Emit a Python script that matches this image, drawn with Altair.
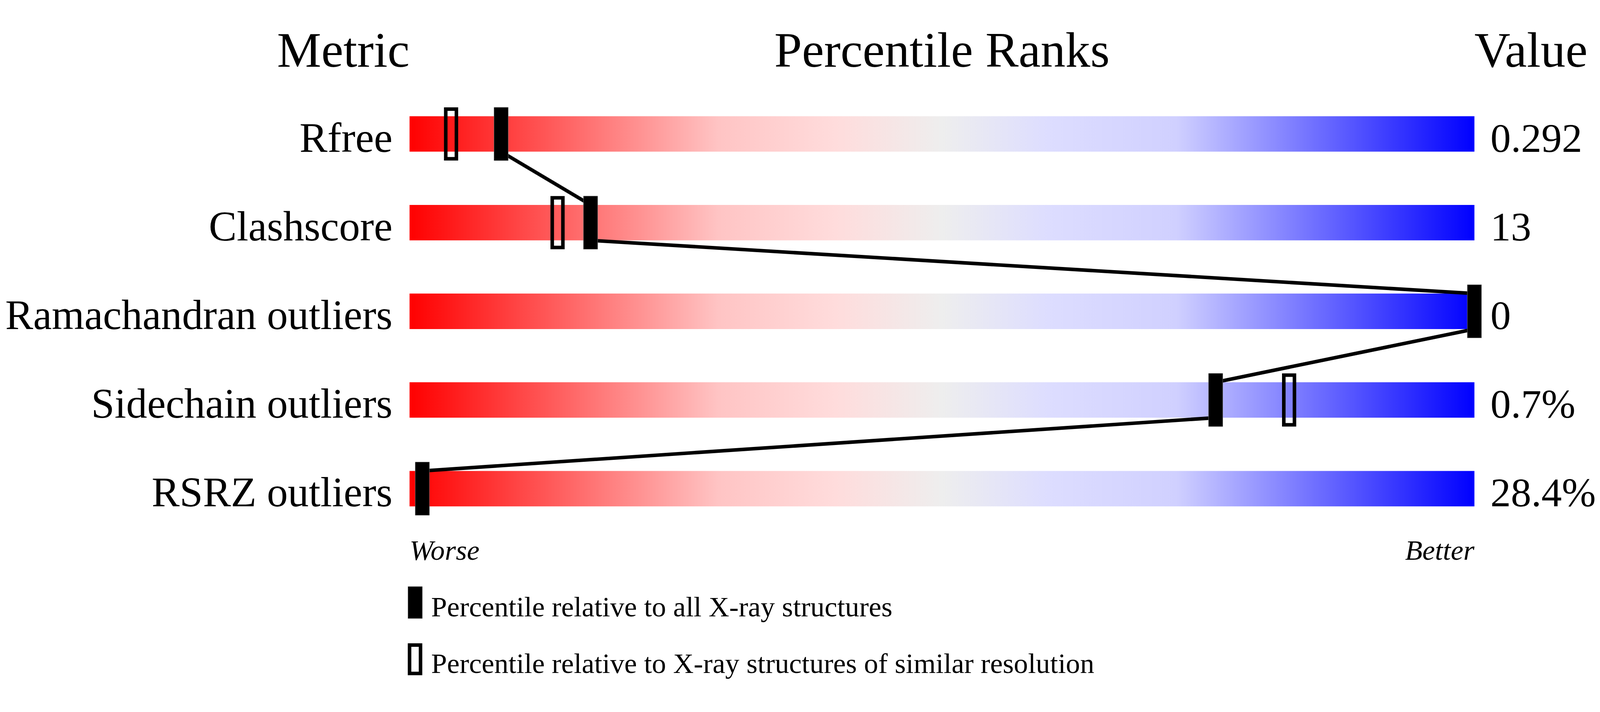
import altair as alt
import pandas as pd

# ---- data ----
metrics = ["Rfree", "Clashscore", "Ramachandran outliers", "Sidechain outliers", "RSRZ outliers"]
values = ["0.292", "13", "0", "0.7%", "28.4%"]
pct_all = [8.6, 17.0, 100.0, 75.7, 1.2]          # percentile vs all X-ray structures
pct_res = [3.9, 13.9, None, 82.6, None]          # percentile vs similar resolution
headers = ["Metric", "Percentile Ranks", "Value"]
axis_ends = ["Worse", "Better"]
legend_labels = [
    "Percentile relative to all X-ray structures",
    "Percentile relative to X-ray structures of similar resolution",
]

FONT = "Liberation Serif"

X = alt.Scale(domain=[0, 100], range=[1145, 4145], nice=False, zero=False)
Y = alt.Scale(domain=[0, 4], range=[278, 1278], nice=False, zero=False)

rows = pd.DataFrame({
    "metric": metrics,
    "value": values,
    "pall": pct_all,
    "pres": pct_res,
    "row": list(range(len(metrics))),
})
rows["lo"] = 0.0
rows["hi"] = 100.0

grad = alt.LinearGradient(
    gradient="linear",
    stops=[
        alt.GradientStop(color="#ff0000", offset=0.0),
        alt.GradientStop(color="#ffc4c4", offset=0.29),
        alt.GradientStop(color="#ffdcdc", offset=0.4),
        alt.GradientStop(color="#eeeeee", offset=0.5),
        alt.GradientStop(color="#ddddff", offset=0.6),
        alt.GradientStop(color="#d0d0ff", offset=0.72),
        alt.GradientStop(color="#0000ff", offset=1.0),
    ],
    x1=0, x2=1, y1=0, y2=0,
)

base = alt.Chart(rows)

bars = base.mark_rect(fill=grad, strokeWidth=0).transform_calculate(
    top="datum.row - 0.2", bot="datum.row + 0.2"
).encode(
    x=alt.X("lo:Q", scale=X, axis=None),
    x2="hi:Q",
    y=alt.Y("top:Q", scale=Y, axis=None),
    y2="bot:Q",
)

# connecting lines between consecutive "all structures" markers
seg = pd.DataFrame({
    "xa": pct_all[:-1],
    "xb": pct_all[1:],
    "ya": [i + 0.2 for i in range(len(metrics) - 1)],
    "yb": [i + 1 - 0.2 for i in range(len(metrics) - 1)],
})
lines = alt.Chart(seg).mark_rule(color="black", strokeWidth=10).encode(
    x=alt.X("xa:Q", scale=X, axis=None),
    x2="xb:Q",
    y=alt.Y("ya:Q", scale=Y, axis=None),
    y2="yb:Q",
)

open_mk = base.transform_filter("isValid(datum.pres)").transform_calculate(
    xl="datum.pres - 0.5", xr="datum.pres + 0.5",
    yt="datum.row - 0.28", yb="datum.row + 0.28",
).mark_rect(filled=False, stroke="black", strokeWidth=10).encode(
    x=alt.X("xl:Q", scale=X, axis=None),
    x2="xr:Q",
    y=alt.Y("yt:Q", scale=Y, axis=None),
    y2="yb:Q",
)

filled_mk = base.transform_calculate(
    xl="datum.pall - 0.667", xr="datum.pall + 0.667",
    yt="datum.row - 0.3", yb="datum.row + 0.3",
).mark_rect(color="black", stroke="#777777", strokeWidth=1).encode(
    x=alt.X("xl:Q", scale=X, axis=None),
    x2="xr:Q",
    y=alt.Y("yt:Q", scale=Y, axis=None),
    y2="yb:Q",
)

labels = base.transform_calculate(yb="datum.row + 0.2").mark_text(
    align="right", baseline="alphabetic", font=FONT, fontSize=118, dx=-48, color="black"
).encode(
    x=alt.X("lo:Q", scale=X, axis=None),
    y=alt.Y("yb:Q", scale=Y, axis=None),
    text="metric:N",
)

vals = base.transform_calculate(yb="datum.row + 0.2").mark_text(
    align="left", baseline="alphabetic", font=FONT, fontSize=115, dx=45, color="black"
).encode(
    x=alt.X("hi:Q", scale=X, axis=None),
    y=alt.Y("yb:Q", scale=Y, axis=None),
    text="value:N",
)

hdr_df = pd.DataFrame({"t": headers, "x": [0, 50, 100], "y": [-0.76] * 3})
hdr_layers = []
for i, al in enumerate(["right", "center", "left"]):
    hdr_layers.append(
        alt.Chart(hdr_df.iloc[[i]]).mark_text(
            align=al, baseline="alphabetic", font=FONT, fontSize=140, color="black"
        ).encode(
            x=alt.X("x:Q", scale=X, axis=None),
            y=alt.Y("y:Q", scale=Y, axis=None),
            text="t:N",
        )
    )

ends_df = pd.DataFrame({"t": axis_ends, "x": [0, 100], "y": [4.804, 4.804]})
end_layers = []
for i, al in enumerate(["left", "right"]):
    end_layers.append(
        alt.Chart(ends_df.iloc[[i]]).mark_text(
            align=al, baseline="alphabetic", font=FONT, fontSize=80,
            fontStyle="italic", color="black"
        ).encode(
            x=alt.X("x:Q", scale=X, axis=None),
            y=alt.Y("y:Q", scale=Y, axis=None),
            text="t:N",
        )
    )

# legend
leg_fill = alt.Chart(pd.DataFrame({"a": [-0.15], "b": [1.2], "c": [5.104], "d": [5.464]})).mark_rect(
    color="black", stroke="#777777", strokeWidth=1
).encode(
    x=alt.X("a:Q", scale=X, axis=None), x2="b:Q",
    y=alt.Y("c:Q", scale=Y, axis=None), y2="d:Q",
)
leg_open = alt.Chart(pd.DataFrame({"a": [0.0], "b": [1.03], "c": [5.764], "d": [6.084]})).mark_rect(
    filled=False, stroke="black", strokeWidth=10
).encode(
    x=alt.X("a:Q", scale=X, axis=None), x2="b:Q",
    y=alt.Y("c:Q", scale=Y, axis=None), y2="d:Q",
)
leg_text = alt.Chart(pd.DataFrame({"t": legend_labels, "x": [2.03, 2.03], "y": [5.44, 6.08]})).mark_text(
    align="left", baseline="alphabetic", font=FONT, fontSize=80, color="black"
).encode(
    x=alt.X("x:Q", scale=X, axis=None),
    y=alt.Y("y:Q", scale=Y, axis=None),
    text="t:N",
)

chart = alt.layer(
    bars, lines, open_mk, filled_mk, labels, vals,
    *hdr_layers, *end_layers, leg_fill, leg_open, leg_text,
).properties(
    width=4490, height=1808, autosize="none", padding=0, background="white"
).configure_view(stroke=None)

chart.save("out.html", embed_options={"renderer": "svg", "actions": False})
